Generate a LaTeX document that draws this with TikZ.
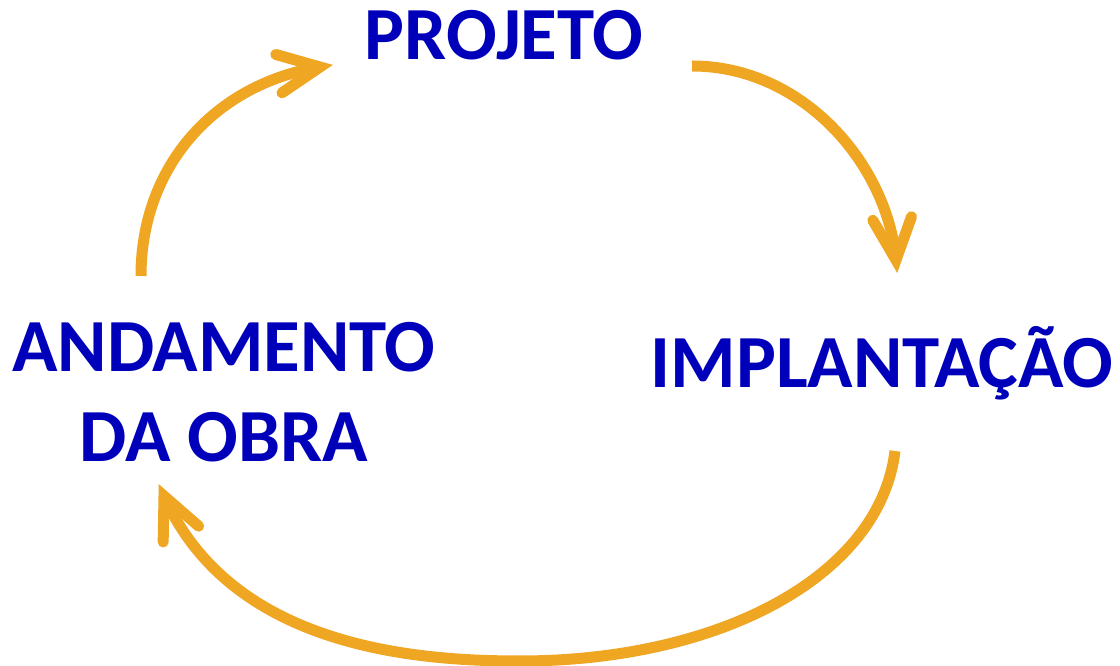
\documentclass[tikz,border=0pt]{standalone}
\usepackage{fontspec}
\setmainfont{Carlito}
\usetikzlibrary{calc}
\definecolor{lblue}{HTML}{0000BB}
\definecolor{aorange}{HTML}{EEA623}
\begin{document}
\begin{tikzpicture}[x=1pt,y=1pt,
  lbl/.style={text=lblue,font=\fontsize{75}{90}\selectfont\bfseries,inner sep=0pt,anchor=base},
  cyc/.style={draw=aorange,line width=11pt,line cap=butt},
  barb/.style={draw=aorange,line width=11pt,line cap=round,line join=miter,miter limit=10}]
\useasboundingbox (0,0) rectangle (1120,666);
\node[lbl] (proj) at (504,606) {PROJETO};
\node[lbl] (impl) at (882,278) {IMPLANTAÇÃO};
\node[lbl] (and1) at (224,294) {ANDAMENTO};
\node[lbl] (and2) at (224,204) {DA OBRA};
\coordinate (s1) at (141,390);
\coordinate (c1) at (215,582);
\coordinate (e1) at (320,599);
\coordinate (s2) at (692,600);
\coordinate (c2) at (887,503);
\coordinate (e2) at (896,406);
\coordinate (s3) at (895,215);
\coordinate (m3) at (520,5);
\coordinate (c3) at (232,17);
\coordinate (e3) at (164,170);
\draw[cyc] (s1) .. controls (141,500) and (c1) .. (e1);
\draw[cyc] (s2) .. controls (802,600) and (c2) .. (e2);
\draw[cyc] (s3) .. controls (880,90) and (720,5) .. (m3)
  .. controls (420,5) and (c3) .. (e3);
\draw[barb] ($(e1)!46pt!25:(c1)$) -- (e1) -- ($(e1)!46pt!-25:(c1)$);
\draw[barb] ($(e2)!46pt!25:(c2)$) -- (e2) -- ($(e2)!46pt!-25:(c2)$);
\draw[barb] ($(e3)!46pt!25:(c3)$) -- (e3) -- ($(e3)!46pt!-25:(c3)$);
\end{tikzpicture}
\end{document}
